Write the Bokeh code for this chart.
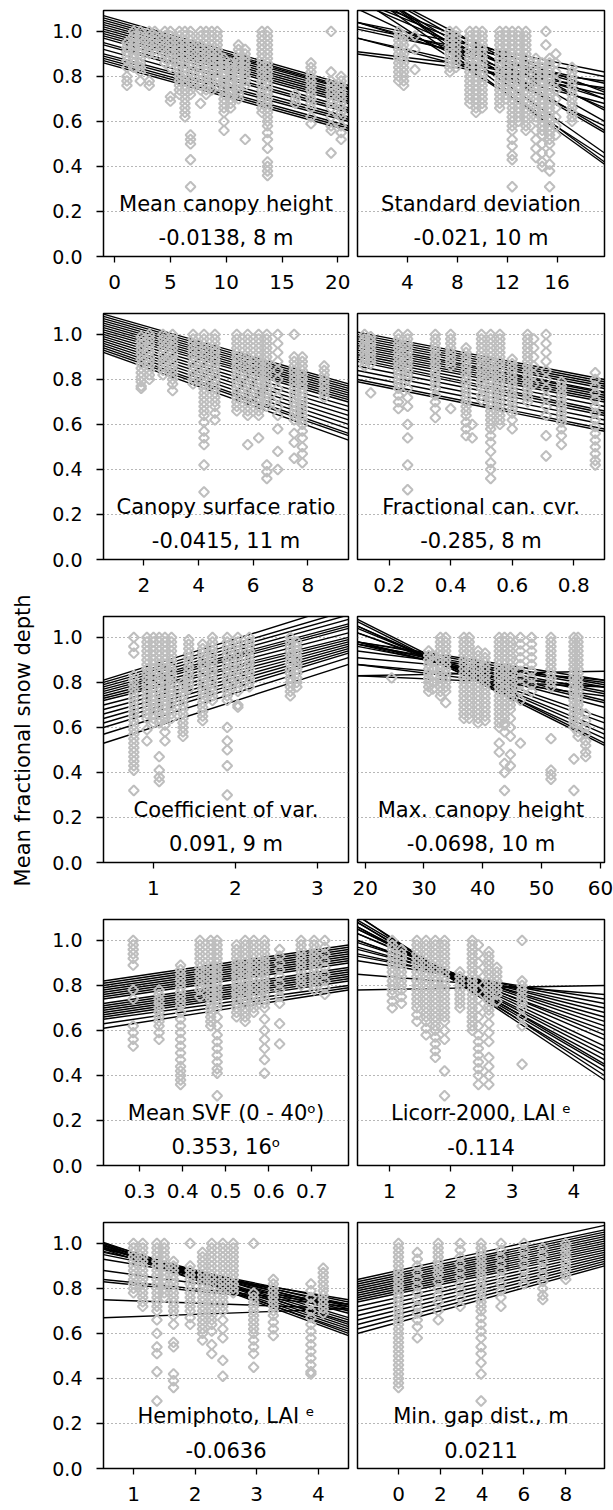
import math
from bokeh.plotting import figure
from bokeh.layouts import row, column
from bokeh.models import Range1d, FixedTicker, PrintfTickFormatter, Grid, Label
from bokeh.core.properties import value
from bokeh.embed import file_html
from bokeh.resources import INLINE

FONT = "DejaVu Sans"
Y_TICKS = [0.0, 0.2, 0.4, 0.6, 0.8, 1.0]
GRID_TICKS = [0.2, 0.4, 0.6, 0.8, 1.0]
Y_LABEL = "Mean fractional snow depth"

# ---------------- panel 1: mean canopy height ----------------
MCH_TITLE = ["Mean canopy height", "-0.0138, 8 m"]
MCH_XTICKS = [0, 5, 10, 15, 20]
MCH_PTS = [
    (1.1, [.95, .93, .91, .89, .87, .84, .80, .78, .76]),
    (1.7, [1, .98, .96, .94, .92, .90, .88, .86, .84]),
    (2.3, [1, .98, .96, .94, .92, .90, .88, .86, .84, .82, .78]),
    (3.1, [1, .98, .96, .94, .92, .90, .78, .76]),
    (3.6, [1, .98, .96, .94, .92, .90]),
    (4.5, [1, .98, .96, .94, .92, .90, .88, .86]),
    (5.0, [1, .98, .96, .94, .92, .90, .88, .86, .84, .71, .69]),
    (5.8, [1, .98, .96, .94, .92, .90, .88, .86, .84, .82, .80, .78, .76, .74, .72]),
    (6.3, [1, .98, .96, .94, .92, .90, .88, .86, .84, .82, .80, .78, .76, .74, .72, .70, .68, .66, .64, .62]),
    (6.8, [1, .98, .96, .94, .92, .90, .88, .86, .84, .82, .80, .78, .76, .74, .72, .54, .52, .50, .43, .31]),
    (7.7, [1, .98, .96, .94, .92, .90, .88, .86, .84, .82, .80, .78, .76, .74, .68]),
    (8.2, [1, .98, .96, .94, .92, .90, .88, .86, .84, .82, .80, .78, .76, .74, .72]),
    (8.7, [1, .98, .96, .94, .92, .90, .88, .86, .84, .82, .80, .78, .76, .74]),
    (9.2, [1, .98, .96, .94, .92, .90, .88, .86, .84, .82, .80, .78, .76]),
    (9.8, [.88, .86, .84, .82, .80, .78, .76, .74, .72, .70, .68, .66, .64, .60, .56]),
    (10.4, [.86, .84, .82, .80, .78, .76, .74, .72, .70, .68, .66]),
    (11.1, [.94, .92, .90, .88, .86, .84, .82, .80, .78, .76, .74, .72, .70]),
    (11.7, [.92, .90, .88, .86, .84, .82, .80, .78, .76, .52]),
    (13.2, [1, .98, .96, .94, .92, .90, .88, .86, .84, .82, .80, .78, .76, .74, .72, .70, .68, .66, .64]),
    (13.7, [1, .98, .96, .94, .92, .90, .88, .86, .84, .82, .80, .78, .76, .74, .72, .70, .68, .66, .64, .62, .60, .58, .55, .52, .48, .42, .40, .38, .36]),
    (16.2, [.72, .70, .68]),
    (17.6, [.86, .84, .82, .80, .78, .76, .74, .72, .70, .68, .66, .62, .59]),
    (19.4, [1, .82, .78, .76, .74, .72, .70, .68, .66, .62, .58, .56, .46]),
    (20.3, [.80, .78, .76, .74, .72, .70, .68, .66, .64, .62, .58, .55, .52]),
]
MCH_LINE_START = [1.07, 1.06, 1.05, 1.04, 1.03, 1.02, 1.01, 1.00, 0.99, 0.98, 0.97, 0.95, 0.94, 0.92, 0.90, 0.89, 0.88, 0.87, 0.86]
MCH_LINE_END = [0.76, 0.75, 0.745, 0.74, 0.73, 0.72, 0.71, 0.70, 0.69, 0.68, 0.66, 0.65, 0.64, 0.62, 0.61, 0.60, 0.58, 0.57, 0.56]

# ---------------- panel 2: standard deviation ----------------
SD_TITLE = ["Standard deviation", "-0.021, 10 m"]
SD_XTICKS = [4, 8, 12, 16]
SD_PTS = [
    (3.3, [1, .98, .96, .94, .92, .90, .88, .86, .84, .82, .80, .78]),
    (3.7, [.98, .96, .94, .92, .90, .88, .86, .84, .82, .80, .78, .76]),
    (4.6, [.98, .92, .83]),
    (7.4, [1, .98, .96, .94, .92, .90, .88, .86, .84, .82]),
    (7.9, [1, .98, .96, .94, .92, .90, .88, .86, .84]),
    (9.0, [1, .98, .96, .94, .92, .90, .88, .86, .84, .82, .80, .78, .76, .74, .72, .70, .68]),
    (9.5, [1, .98, .96, .94, .92, .90, .88, .86, .84, .82, .80, .78, .76, .74, .72, .70, .68, .66, .64]),
    (10.0, [1, .98, .96, .94, .92, .90, .88, .86, .84, .82, .80, .78, .76, .74, .72, .70, .68, .66]),
    (11.4, [1, .98, .96, .94, .92, .90, .88, .86, .84, .82, .80, .78, .76, .74, .72, .70, .68, .66]),
    (11.9, [1, .98, .96, .94, .92, .90, .88, .86, .84, .82, .80, .78, .76, .74, .72, .70]),
    (12.4, [1, .98, .96, .94, .92, .90, .88, .86, .84, .82, .80, .78, .76, .74, .72, .70, .68, .66, .64, .62, .60, .58, .56, .52, .49, .45, .43, .31]),
    (12.9, [1, .98, .96, .94, .92, .90, .88, .86, .84, .82, .80, .78, .76, .74, .72, .70, .68, .66, .64, .62, .60]),
    (13.5, [1, .98, .96, .94, .92, .90, .88, .86, .84, .82, .80, .78, .76, .74, .72, .70, .68, .66, .64, .62, .60, .58, .56]),
    (14.3, [.88, .86, .84, .82, .80, .78, .76, .74, .72, .70, .68, .66, .64, .62, .60, .56, .52, .48, .44]),
    (14.8, [.86, .84, .82, .80, .78, .76, .74, .72, .70, .68, .66, .64, .62, .60, .58, .56, .54, .50, .46, .42, .40]),
    (15.1, [1, .94]),
    (15.4, [.88, .86, .84, .82, .80, .78, .76, .74, .72, .70, .68, .66, .64, .62, .60, .58, .56, .54, .52, .50, .46, .41, .38, .31]),
    (15.9, [.90, .86, .82, .78, .74, .70, .66, .62, .58, .54]),
    (17.2, [.84, .82, .80, .78, .76, .74, .72, .70, .68, .66, .64, .62, .60]),
]
SD_LINE_START = [1.20, 1.23, 1.15, 1.23, 1.19, 1.21, 1.10, 1.22, 1.22, 1.13, 0.97, 1.14, 0.97, 1.15, 0.90, 1.01, 0.91, 1.02, 1.04, 1.04, 1.04]
SD_LINE_END = [0.41, 0.42, 0.44, 0.46, 0.55, 0.56, 0.58, 0.60, 0.65, 0.66, 0.68, 0.70, 0.72, 0.73, 0.75, 0.77, 0.78, 0.80, 0.82, 0.74, 0.70]

# ---------------- panel 3: canopy surface ratio ----------------
CSR_TITLE = ["Canopy surface ratio", "-0.0415, 11 m"]
CSR_XTICKS = [2, 4, 6, 8]
CSR_PTS = [
    (1.9, [.99, .97, .95, .93, .91, .89, .87, .85, .83, .81, .79, .77, .76]),
    (2.2, [1, .98, .96, .94, .92, .90, .88, .86, .84, .82, .80]),
    (2.7, [1, .98, .96, .94, .92, .90, .88, .86, .84, .82]),
    (3.05, [1, .98, .96, .94, .92, .90, .88, .86, .84, .82, .80, .78, .75]),
    (3.8, [1, .98, .96, .94, .92, .90, .88, .86, .84, .82, .80, .78]),
    (4.2, [1, .98, .96, .94, .92, .90, .88, .86, .84, .82, .80, .78, .76, .74, .72, .70, .68, .66, .64, .61, .57, .54, .51, .42, .30]),
    (4.6, [1, .98, .96, .94, .92, .90, .88, .86, .84, .82, .80, .78, .76, .74, .72, .70, .68, .65, .62]),
    (5.4, [1, .98, .96, .94, .92, .90, .88, .86, .84, .82, .80, .78, .76, .74, .72, .70, .68, .66]),
    (5.8, [1, .98, .96, .94, .92, .90, .88, .86, .84, .82, .80, .78, .76, .74, .72, .70, .68, .66, .64, .51]),
    (6.2, [1, .98, .96, .94, .92, .90, .88, .86, .84, .82, .80, .78, .76, .74, .72, .70, .68, .66, .64, .54]),
    (6.5, [1, .98, .96, .94, .92, .90, .88, .86, .84, .82, .80, .78, .76, .74, .72, .70, .68, .42, .39, .36]),
    (6.9, [1, .96, .92, .88, .84, .80, .76, .72, .68, .64, .58, .48, .40]),
    (7.5, [1, .90, .88, .86, .84, .82, .80, .78, .76, .74, .72, .70, .68, .66, .64, .62, .56, .52, .45]),
    (7.8, [.90, .88, .86, .84, .82, .80, .78, .76, .74, .72, .70, .68, .66, .64, .62, .60, .57, .54, .50, .47, .43]),
    (8.6, [.86, .84, .82, .80, .78, .76, .74, .72]),
]
CSR_LINE_START = [1.09, 1.08, 1.07, 1.06, 1.05, 1.04, 1.03, 1.02, 1.01, 1.00, 0.99, 0.98, 0.97, 0.96, 0.95, 0.94, 0.93, 0.92]
CSR_LINE_END = [0.78, 0.77, 0.76, 0.75, 0.74, 0.73, 0.72, 0.71, 0.70, 0.68, 0.66, 0.64, 0.62, 0.60, 0.58, 0.56, 0.55, 0.53]

# ---------------- panel 4: fractional canopy cover ----------------
FCC_TITLE = ["Fractional can. cvr.", "-0.285, 8 m"]
FCC_XTICKS = [0.2, 0.4, 0.6, 0.8]
FCC_PTS = [
    (0.12, [1, .98, .96, .94, .92, .90, .88, .86]),
    (0.14, [.99, .97, .95, .93, .91, .89, .87, .74]),
    (0.23, [1, .98, .96, .94, .92, .90, .88, .86, .84, .82, .80, .78, .76, .73, .70, .67]),
    (0.26, [1, .98, .96, .94, .92, .90, .88, .86, .84, .82, .80, .76, .72, .68, .60, .54, .42, .31]),
    (0.35, [1, .98, .96, .94, .92, .90, .88, .86, .84, .82, .80, .78, .76, .73, .70, .67, .63]),
    (0.40, [1, .98, .96, .94, .92, .90, .88, .86, .67]),
    (0.45, [.94, .92, .90, .88, .86, .84, .82, .80, .78, .76, .74, .72, .70, .68, .66, .64, .61, .58, .55]),
    (0.47, [.54, .60]),
    (0.50, [1, .98, .96, .94, .92, .90, .88, .86, .84, .82, .80, .78, .76, .73, .71]),
    (0.53, [1, .98, .96, .94, .92, .90, .88, .86, .84, .82, .80, .78, .76, .74, .72, .70, .68, .66, .64, .62, .60, .58, .55, .52, .48, .43, .40, .36]),
    (0.56, [1, .98, .96, .94, .92, .90, .88, .86, .84, .82, .80, .78, .76, .74, .72, .70, .68, .66, .64, .62, .60]),
    (0.60, [.89, .87, .85, .83, .81, .79, .77, .75, .73, .71, .69, .67, .65, .62, .58]),
    (0.65, [1, .98, .96, .94, .92, .90, .88, .86, .84, .82, .80, .78, .76, .74, .72, .70]),
    (0.67, [.98, .94, .90, .86, .82, .78]),
    (0.71, [1, .96, .92, .88, .84, .80, .76, .72, .68, .64, .55, .46]),
    (0.76, [.79, .77, .75, .73, .71, .69, .67, .65, .63, .61, .58, .55, .51]),
    (0.87, [.83, .80, .77, .74, .71, .68, .65, .62, .59, .56, .53, .50, .47, .44, .42]),
]
FCC_LINE_START = [1.01, 1.00, 0.99, 0.98, 0.97, 0.96, 0.95, 0.94, 0.93, 0.92, 0.91, 0.90, 0.89, 0.88, 0.86, 0.84, 0.82, 0.80, 0.79]
FCC_LINE_END = [0.80, 0.79, 0.78, 0.77, 0.76, 0.745, 0.74, 0.73, 0.72, 0.71, 0.70, 0.68, 0.66, 0.65, 0.64, 0.62, 0.60, 0.58, 0.57]

# ---------------- panel 5: coefficient of variation ----------------
COV_TITLE = ["Coefficient of var.", "0.091, 9 m"]
COV_XTICKS = [1, 2, 3]
COV_PTS = [
    (0.76, [1, .96, .93, .83, .81, .79, .77, .75, .73, .71, .69, .67, .65, .63, .61, .59, .57, .55, .53, .51, .49, .47, .45, .43, .41, .32]),
    (0.92, [1, .98, .96, .94, .92, .90, .88, .86, .84, .82, .80, .78, .76, .74, .72, .70, .68, .66, .64, .59, .54]),
    (1.0, [1, .98, .96, .94, .92, .90, .88, .86, .84, .82, .80, .78, .76, .74, .72, .70, .68, .66, .64, .62]),
    (1.07, [1, .98, .96, .94, .92, .90, .88, .86, .84, .82, .80, .78, .76, .74, .72, .70, .68, .66, .64, .62, .47, .41, .38, .36]),
    (1.14, [1, .98, .96, .94, .92, .90, .88, .86, .84, .82, .80, .78, .76, .74, .72, .70, .68, .66, .64, .61, .58, .54]),
    (1.22, [1, .98, .96, .94, .92, .90, .88, .86, .84, .82, .80, .78, .76, .74, .72, .70, .68, .66, .64]),
    (1.36, [.80, .78, .76, .74, .72, .70, .68, .66, .64, .62, .60, .58, .56]),
    (1.43, [.99, .97, .95, .93, .91, .89, .87, .85, .83, .81, .79, .77]),
    (1.6, [.97, .95, .93, .91, .89, .87, .85, .83, .81, .79, .77, .75, .73, .71, .69, .67, .65, .63]),
    (1.72, [1, .98, .96, .94, .92, .90, .88, .86, .84, .82, .80, .78, .76, .74, .72]),
    (1.9, [1, .98, .96, .94, .92, .90, .88, .86, .84, .82, .80, .78, .76, .74, .72, .60, .54, .50, .43, .30]),
    (2.03, [1, .98, .96, .94, .92, .90, .88, .86, .84, .82, .80, .78, .76, .70, .69]),
    (2.17, [1, .98, .96, .94, .92, .90, .88, .86, .84, .82, .80, .78]),
    (2.67, [1, .98, .96, .94, .92, .90, .88, .86, .84, .82, .80, .78, .76, .74]),
    (2.75, [.98, .96, .94, .92, .90, .88, .86, .84, .82, .80, .78]),
]
COV_LINE_START = [0.81, 0.80, 0.79, 0.78, 0.77, 0.76, 0.75, 0.74, 0.73, 0.72, 0.70, 0.68, 0.66, 0.64, 0.62, 0.60, 0.57, 0.53]
COV_LINE_END = [1.15, 1.12, 1.10, 1.08, 1.06, 1.05, 1.04, 1.02, 1.00, 0.99, 0.98, 0.97, 0.96, 0.95, 0.94, 0.93, 0.91, 0.88]

# ---------------- panel 6: max canopy height ----------------
MAX_TITLE = ["Max. canopy height", "-0.0698, 10 m"]
MAX_XTICKS = [20, 30, 40, 50, 60]
MAX_PTS = [
    (24.5, [.82]),
    (30.8, [.94, .92, .90, .88, .86, .84, .82, .80, .78, .76]),
    (31.5, [.92, .89, .86, .83, .80, .77]),
    (32.8, [1, .98, .96, .94, .92, .90, .88, .86, .84, .82, .80, .78, .76, .74]),
    (33.7, [1, .98, .96, .94, .92, .90, .88, .86, .84, .82, .80, .78, .76, .71]),
    (36.8, [1, .98, .96, .94, .92, .90, .88, .86, .84, .82, .80, .78, .76, .74, .72, .70, .68, .66, .64]),
    (37.7, [1, .98, .96, .94, .92, .90, .88, .86, .84, .82, .80, .78, .76, .74, .72, .70, .68, .66, .64]),
    (39.2, [.94, .92, .90, .88, .86, .84, .82, .80, .78, .76, .74, .72, .70, .68, .66, .64, .62]),
    (40.4, [.93, .91, .89, .87, .85, .83, .81, .79, .77, .75, .73, .71, .69, .67, .65, .63]),
    (42.8, [1, .98, .96, .94, .92, .90, .88, .86, .84, .82, .80, .78, .76, .74, .72, .70, .68, .66, .64, .62, .60, .53, .49]),
    (43.7, [1, .98, .96, .94, .92, .90, .88, .86, .84, .82, .80, .78, .76, .74, .72, .70, .68, .66, .64, .61, .58, .44, .40, .32]),
    (44.7, [1, .98, .96, .94, .92, .90, .88, .86, .84, .82, .80, .78, .76, .74, .72, .70, .68, .64, .60, .56, .48, .43]),
    (46.4, [1, .97, .94, .91, .88, .85, .82, .79, .76, .72, .53]),
    (48.3, [1, .97, .94, .91, .88, .85, .82, .79, .76]),
    (51.6, [1, .98, .96, .94, .92, .90, .88, .86, .84, .82, .80, .78, .55, .41, .39, .37]),
    (55.5, [1, .98, .96, .94, .92, .90, .88, .86, .84, .82, .80, .78, .76, .74, .72, .70, .68, .66, .64, .62, .60, .46, .32]),
    (56.2, [1, .98, .96, .94, .92, .90, .88, .86, .84, .82, .80, .78, .76, .74, .72, .70, .68, .66, .62, .58, .56]),
    (57.5, [.66, .63, .60, .57, .54, .52, .49, .47]),
]
MAX_LINE_START = [1.07, 1.08, 1.05, 1.05, 1.04, 1.02, 1.02, 0.98, 0.97, 0.98, 0.96, 0.97, 0.97, 0.98, 0.94, 0.98, 0.91, 0.83, 0.88, 0.88, 0.83]
MAX_LINE_END = [0.52, 0.53, 0.55, 0.57, 0.59, 0.62, 0.64, 0.69, 0.71, 0.72, 0.75, 0.76, 0.78, 0.79, 0.80, 0.81, 0.81, 0.85, 0.74, 0.78, 0.78]

# ---------------- panel 7: mean sky view factor ----------------
SVF_TITLE = ["Mean SVF (0 - 40\u1d52)", "0.353, 16\u1d52"]
SVF_XTICKS = [0.3, 0.4, 0.5, 0.6, 0.7]
SVF_PTS = [
    (0.285, [1, .98, .96, .94, .92, .89, .78, .74, .62, .59, .56, .53]),
    (0.345, [.78, .76, .74, .72, .70, .68, .66, .64, .62, .59, .56]),
    (0.395, [.89, .87, .85, .83, .81, .79, .77, .75, .73, .71, .68, .65, .62, .59, .56, .53, .50, .47, .44, .42, .40, .38, .36]),
    (0.44, [1, .98, .96, .94, .92, .90, .88, .86, .84, .82, .80, .78, .75]),
    (0.465, [1, .98, .96, .94, .92, .90, .88, .86, .84, .82, .80, .78, .76, .74, .72, .70, .68, .66, .64, .62]),
    (0.48, [1, .98, .96, .94, .92, .90, .88, .86, .84, .82, .80, .78, .76, .74, .72, .70, .66, .62, .58, .55, .52, .49, .46, .43, .41, .31]),
    (0.525, [.98, .96, .94, .92, .90, .88, .86, .84, .82, .80, .78, .76, .74, .72, .70, .68, .66]),
    (0.545, [1, .98, .96, .94, .92, .90, .88, .86, .84, .82, .80, .78, .76, .74, .72, .70, .68, .66, .64]),
    (0.565, [1, .98, .96, .94, .92, .90, .88, .86, .84, .82, .80, .78, .76, .74, .72, .70, .68]),
    (0.59, [1, .98, .96, .94, .92, .90, .88, .86, .84, .82, .80, .78, .76, .74, .72, .70, .65, .60, .56, .52, .47, .41]),
    (0.625, [.96, .93, .90, .87, .84, .81, .78, .75, .72, .63, .54]),
    (0.675, [1, .98, .96, .94, .92, .90, .88, .86, .84, .82, .80]),
    (0.705, [1, .98, .96, .94, .92, .90, .88, .86, .84, .82, .80, .78]),
    (0.73, [1, .97, .94, .91, .88, .85, .82, .79, .76]),
]
SVF_LINE_START = [0.82, 0.81, 0.80, 0.79, 0.78, 0.77, 0.76, 0.75, 0.74, 0.72, 0.71, 0.70, 0.69, 0.68, 0.67, 0.66, 0.65, 0.63, 0.61]
SVF_LINE_END = [0.98, 0.97, 0.96, 0.95, 0.94, 0.93, 0.92, 0.91, 0.90, 0.88, 0.87, 0.86, 0.85, 0.84, 0.83, 0.82, 0.80, 0.79, 0.78]

# ---------------- panel 8: Licor LAI-2000 ----------------
LIC_TITLE = ["Licorr-2000, LAI \u1d49", "-0.114"]
LIC_XTICKS = [1, 2, 3, 4]
LIC_PTS = [
    (1.05, [1, .98, .96, .94, .92, .90, .88, .86, .84, .82, .80, .78, .76, .73, .70]),
    (1.2, [.96, .94, .92, .90, .88, .86, .84, .82, .80, .78, .75, .72]),
    (1.45, [1, .98, .96, .94, .92, .90, .88, .86, .84, .82, .80, .78, .76, .74, .72, .70, .67, .64]),
    (1.6, [1, .98, .96, .94, .92, .90, .88, .86, .84, .82, .80, .78, .76, .74, .72, .70, .68, .66, .64, .61, .58]),
    (1.75, [1, .98, .96, .94, .92, .90, .88, .86, .84, .82, .80, .78, .76, .74, .72, .70, .68, .66, .64, .62, .60, .57, .54, .51, .48]),
    (1.9, [1, .98, .96, .94, .92, .90, .88, .86, .84, .82, .80, .78, .76, .74, .72, .70, .68, .66, .64, .60, .56, .42, .31]),
    (2.15, [.86, .84, .82, .80, .78, .76, .74, .72, .70]),
    (2.35, [1, .98, .96, .94, .92, .90, .88, .86, .84, .82, .80, .78, .76, .74, .72, .70, .68, .66, .64, .62, .60]),
    (2.45, [.98, .94, .90, .86, .82, .78, .74, .70, .66, .62, .58, .55, .52, .49, .46, .43, .40, .36]),
    (2.62, [.95, .93, .91, .89, .87, .85, .83, .81, .79, .77, .75, .73, .71, .69, .67, .63, .59, .55, .48, .44, .40, .36]),
    (2.75, [.88, .86, .84, .82, .80, .78, .76, .73]),
    (3.16, [1, .82, .80, .78, .76, .74, .72, .70, .66, .62, .45]),
]
LIC_LINE_START = [1.11, 1.11, 1.08, 1.08, 1.09, 1.06, 1.06, 1.05, 1.05, 1.03, 1.03, 1.00, 1.00, 0.99, 0.96, 0.94, 0.93, 0.91, 0.97, 0.78, 0.85]
LIC_LINE_END = [0.38, 0.40, 0.42, 0.44, 0.45, 0.47, 0.49, 0.51, 0.53, 0.56, 0.58, 0.60, 0.62, 0.64, 0.68, 0.70, 0.72, 0.74, 0.66, 0.80, 0.76]

# ---------------- panel 9: hemispherical photo LAI ----------------
HEM_TITLE = ["Hemiphoto, LAI \u1d49", "-0.0636"]
HEM_XTICKS = [1, 2, 3, 4]
HEM_PTS = [
    (1.0, [1, .98, .96, .94, .92, .90, .88, .86, .84, .82, .80, .78]),
    (1.15, [1, .98, .96, .94, .92, .90, .88, .86, .84, .82, .80, .78, .76, .74, .72]),
    (1.38, [1, .98, .96, .94, .92, .90, .88, .86, .84, .82, .80, .78, .76, .74, .72, .70, .66, .60, .54, .51, .43, .30]),
    (1.5, [1, .98, .96, .94, .92, .90, .88, .86, .84, .82, .80, .78, .76]),
    (1.65, [.92, .90, .88, .86, .84, .82, .80, .78, .76, .74, .72, .70, .68, .64, .56, .54, .42, .39, .36]),
    (1.92, [1, .90, .88, .86, .84, .82, .80, .78, .76, .74, .72, .70, .67, .64]),
    (2.12, [.96, .94, .92, .90, .88, .86, .84, .82, .80, .78, .76, .74, .72, .70, .68, .66, .64, .62, .60, .57]),
    (2.27, [1, .98, .96, .94, .92, .90, .88, .86, .84, .82, .80, .78, .76, .74, .72, .70, .68, .66, .64, .61, .55, .51]),
    (2.45, [1, .98, .96, .94, .92, .90, .88, .86, .84, .82, .80, .78, .76, .74, .72, .70, .66, .62, .58, .48, .41]),
    (2.62, [1, .98, .96, .94, .92, .90, .88, .86, .84, .82, .80, .78]),
    (2.95, [1, .78, .76, .74, .72, .70, .68, .66, .64, .62, .60, .57, .54, .51, .45]),
    (3.27, [.84, .82, .80, .78, .76, .74, .72, .70, .68, .65, .62, .59]),
    (3.88, [.82, .79, .76, .73, .70, .67, .64, .61, .58, .55, .52, .49, .46, .43, .42]),
    (4.08, [.89, .87, .85, .83, .81, .79, .77, .75, .73, .71, .69]),
]
HEM_LINE_START = [0.99, 1.00, 0.975, 0.985, 0.995, 1.005, 0.98, 0.99, 1.00, 0.98, 0.99, 0.965, 0.975, 0.95, 0.96, 0.93, 0.88, 0.84, 0.83, 0.75, 0.67]
HEM_LINE_END = [0.59, 0.60, 0.61, 0.62, 0.63, 0.64, 0.65, 0.66, 0.67, 0.69, 0.70, 0.71, 0.72, 0.73, 0.74, 0.75, 0.73, 0.73, 0.72, 0.71, 0.71]

# ---------------- panel 10: minimum gap distance ----------------
GAP_TITLE = ["Min. gap dist., m", "0.0211"]
GAP_XTICKS = [0, 2, 4, 6, 8]
GAP_PTS = [
    (0.0, [1, .98, .96, .94, .92, .90, .88, .86, .84, .82, .80, .78, .76, .74, .72, .70, .68, .66, .64, .62, .60, .58, .56, .54, .52, .50, .48, .46, .44, .42, .40, .38, .36]),
    (0.9, [.96, .93, .90, .87, .84, .81, .78, .75, .72, .69, .66, .63, .58]),
    (1.9, [1, .98, .96, .94, .92, .90, .88, .86, .83, .80, .77, .74, .70, .66]),
    (2.95, [1, .97, .94, .91, .88, .85, .82, .79, .76, .72]),
    (3.95, [1, .98, .96, .94, .92, .90, .88, .86, .84, .82, .80, .78, .76, .74, .72, .70, .67, .64, .61, .58, .54, .51, .47, .42, .30]),
    (4.9, [1, .97, .94, .91, .88, .85, .82, .79, .76, .72]),
    (6.0, [1, .97, .94, .91, .88, .85, .82]),
    (6.9, [.98, .95, .92, .89, .86, .83, .80, .77, .75]),
    (8.0, [1, .98, .96, .94, .92, .90, .88, .86, .84]),
]
GAP_LINE_START = [0.84, 0.83, 0.82, 0.81, 0.80, 0.79, 0.78, 0.77, 0.76, 0.75, 0.74, 0.72, 0.70, 0.68, 0.66, 0.64, 0.62, 0.60]
GAP_LINE_END = [1.08, 1.06, 1.05, 1.04, 1.03, 1.02, 1.01, 1.00, 0.99, 0.98, 0.97, 0.96, 0.95, 0.94, 0.93, 0.92, 0.91, 0.90]

# ---------------- layout / styling ----------------
Y_MAX = 1.093
POINT_COLOR = "#bebebe"
GRID_COLOR = "#6e6e6e"

PANELS = [
    (MCH_TITLE, (-1.0, 20.96), MCH_XTICKS, "%d", MCH_PTS, MCH_LINE_START, MCH_LINE_END),
    (SD_TITLE, (0.0, 19.8), SD_XTICKS, "%d", SD_PTS, SD_LINE_START, SD_LINE_END),
    (CSR_TITLE, (0.52, 9.49), CSR_XTICKS, "%d", CSR_PTS, CSR_LINE_START, CSR_LINE_END),
    (FCC_TITLE, (0.097, 0.90), FCC_XTICKS, "%.1f", FCC_PTS, FCC_LINE_START, FCC_LINE_END),
    (COV_TITLE, (0.39, 3.38), COV_XTICKS, "%d", COV_PTS, COV_LINE_START, COV_LINE_END),
    (MAX_TITLE, (18.7, 60.7), MAX_XTICKS, "%d", MAX_PTS, MAX_LINE_START, MAX_LINE_END),
    (SVF_TITLE, (0.216, 0.785), SVF_XTICKS, "%.1f", SVF_PTS, SVF_LINE_START, SVF_LINE_END),
    (LIC_TITLE, (0.485, 4.5), LIC_XTICKS, "%d", LIC_PTS, LIC_LINE_START, LIC_LINE_END),
    (HEM_TITLE, (0.513, 4.49), HEM_XTICKS, "%d", HEM_PTS, HEM_LINE_START, HEM_LINE_END),
    (GAP_TITLE, (-1.96, 9.85), GAP_XTICKS, "%d", GAP_PTS, GAP_LINE_START, GAP_LINE_END),
]


def make_panel(idx):
    title, xlim, xticks, xfmt, pts, l_start, l_end = PANELS[idx]
    left = idx % 2 == 0
    last = idx >= 8
    h = 298 if last else 303
    bb = 42 if last else 47
    if left:
        w, bl, br = 307, 58, 4
    else:
        w, bl, br = 261, 5, 9
    p = figure(width=w, height=h, x_range=Range1d(*xlim), y_range=Range1d(0, Y_MAX),
               toolbar_location=None, output_backend="svg",
               y_axis_location="left" if left else None,
               min_border_left=bl, min_border_right=br,
               min_border_top=10, min_border_bottom=bb)
    p.outline_line_color = "black"
    p.outline_line_width = 1.5
    p.outline_line_alpha = 1.0
    p.background_fill_color = "white"
    p.border_fill_color = "white"
    p.grid.visible = False
    p.add_layout(Grid(dimension=1, ticker=FixedTicker(ticks=GRID_TICKS),
                      grid_line_color=GRID_COLOR, grid_line_dash="1 3",
                      grid_line_width=1), "center")

    ax = p.xaxis[0]
    ax.ticker = FixedTicker(ticks=xticks)
    ax.formatter = PrintfTickFormatter(format=xfmt)
    ax.axis_line_color = None
    ax.major_tick_out = 6
    ax.major_tick_in = 0
    ax.minor_tick_out = 0
    ax.minor_tick_in = 0
    ax.major_tick_line_color = "black"
    ax.major_tick_line_width = 1.3
    ax.major_label_text_font = FONT
    ax.major_label_text_font_size = "20px"
    ax.major_label_text_color = "black"
    ax.major_label_standoff = 12

    if left:
        ay = p.yaxis[0]
        ay.ticker = FixedTicker(ticks=Y_TICKS)
        ay.formatter = PrintfTickFormatter(format="%.1f")
        ay.axis_line_color = None
        ay.major_tick_out = 7
        ay.major_tick_in = 0
        ay.minor_tick_out = 0
        ay.minor_tick_in = 0
        ay.major_tick_line_color = "black"
        ay.major_tick_line_width = 1.3
        ay.major_label_text_font = FONT
        ay.major_label_text_font_size = "19px"
        ay.major_label_text_color = "black"
        ay.major_label_standoff = 14

    n = len(l_start)
    p.segment(x0=[xlim[0]] * n, y0=l_start, x1=[xlim[1]] * n, y1=l_end,
              line_color="black", line_width=1.4)

    xs, ys = [], []
    for xv, col in pts:
        for yv in col:
            xs.append(xv)
            ys.append(yv)
    p.scatter(xs, ys, marker="square", size=7, angle=math.pi / 4,
              fill_color=None, line_color=POINT_COLOR, line_width=2)

    cx = (xlim[0] + xlim[1]) / 2.0
    for txt, yy in zip(title, [0.235, 0.083]):
        p.add_layout(Label(x=cx, y=yy, text=txt, text_align="center",
                           text_baseline="middle", text_font=FONT,
                           text_font_size="21px", text_color="black"))
    return p


panels = [make_panel(i) for i in range(10)]
rows = [row(panels[2 * r], panels[2 * r + 1]) for r in range(5)]
grid = column(*rows)

lab = figure(width=45, height=1510, x_range=Range1d(0, 1), y_range=Range1d(0, 1),
             toolbar_location=None, output_backend="svg",
             x_axis_location=None, y_axis_location=None,
             min_border_left=0, min_border_right=0, min_border_top=0, min_border_bottom=0)
lab.outline_line_color = None
lab.grid.visible = False
lab.text(x=[0.5], y=[0.51], text=[Y_LABEL], angle=math.pi / 2,
         text_align="center", text_baseline="middle",
         text_font=value(FONT), text_font_size="21px", text_color="black")

layout = row(lab, grid)

open("out.html", "w").write(file_html(layout, INLINE))
